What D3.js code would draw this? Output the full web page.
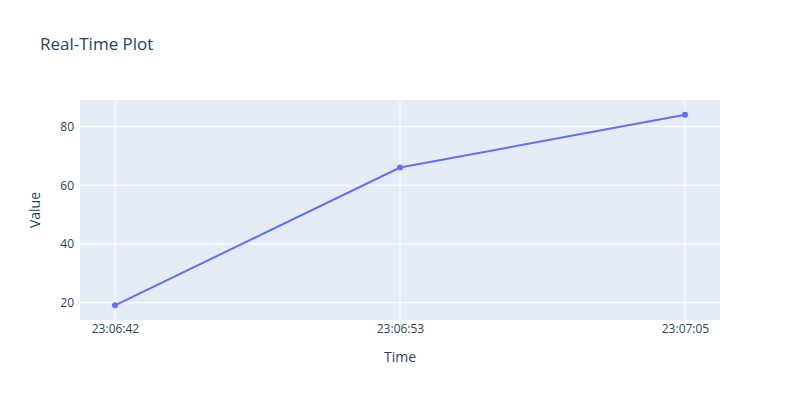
<!DOCTYPE html>
<html><head><meta charset="utf-8">
<script src="https://cdn.jsdelivr.net/npm/d3@7"></script>
<style>body{margin:0;background:#fff}text{font-family:"Open Sans",sans-serif}</style>
</head><body><svg id="c" width="800" height="400"></svg>
<script>
const times = ["23:06:42.200", "23:06:53.750", "23:07:05.300"];
const values = [19.1, 66, 84];
const yTicks = [20, 40, 60, 80];
const title = "Real-Time Plot";
const xTitle = "Time";
const yTitle = "Value";

const W = 800, H = 400, m = {l: 80, r: 80, t: 100, b: 80};
const svg = d3.select("#c");
const parse = d3.timeParse("%H:%M:%S.%L");
const dates = times.map(parse);
const data = dates.map((d, i) => ({d, v: values[i]}));

const t0 = dates[0].getTime(), t1 = dates[dates.length - 1].getTime();
const padX = (t1 - t0) * 35 / 570;
const x = d3.scaleTime().domain([new Date(t0 - padX), new Date(t1 + padX)]).range([m.l, W - m.r]);
const vmin = d3.min(values), vmax = d3.max(values);
const padY = (vmax - vmin) * 0.077;
const y = d3.scaleLinear().domain([vmin - padY, vmax + padY]).range([H - m.b, m.t]);

svg.append("rect").attr("x", m.l).attr("y", m.t).attr("width", W - m.l - m.r).attr("height", H - m.t - m.b).attr("fill", "#e5ecf6");

const gx = svg.append("g").attr("transform", `translate(0,${H - m.b})`)
  .call(d3.axisBottom(x).tickValues(dates).tickFormat(d3.timeFormat("%H:%M:%S")).tickSize(0).tickPadding(0));
gx.select(".domain").remove();
gx.selectAll("text").attr("dy", null).attr("y", 13).attr("fill", "#2a3f5f").style("font-size", "12px");
svg.append("g").selectAll("line").data(dates).join("line")
  .attr("x1", d => x(d)).attr("x2", d => x(d)).attr("y1", m.t).attr("y2", H - m.b)
  .attr("stroke", "#fff").attr("stroke-width", 1);

const gy = svg.append("g").attr("transform", `translate(${m.l},0)`)
  .call(d3.axisLeft(y).tickValues(yTicks).tickSize(0).tickPadding(6));
gy.select(".domain").remove();
gy.selectAll("text").attr("fill", "#2a3f5f").style("font-size", "12px");
svg.append("g").selectAll("line").data(yTicks).join("line")
  .attr("x1", m.l).attr("x2", W - m.r).attr("y1", d => y(d)).attr("y2", d => y(d))
  .attr("stroke", "#fff").attr("stroke-width", 1);

svg.append("path").datum(data)
  .attr("d", d3.line().x(d => x(d.d)).y(d => y(d.v)))
  .attr("fill", "none").attr("stroke", "#636efa").attr("stroke-width", 2);
svg.append("g").selectAll("circle").data(data).join("circle")
  .attr("cx", d => x(d.d)).attr("cy", d => y(d.v)).attr("r", 3).attr("fill", "#636efa");

svg.append("text").attr("x", 40).attr("y", 50).text(title).attr("fill", "#2a3f5f").style("font-size", "17px");
svg.append("text").attr("x", (m.l + W - m.r) / 2).attr("y", 362).attr("text-anchor", "middle").text(xTitle).attr("fill", "#2a3f5f").style("font-size", "14px");
svg.append("text").attr("transform", `translate(40,${(m.t + H - m.b) / 2}) rotate(-90)`).attr("text-anchor", "middle").text(yTitle).attr("fill", "#2a3f5f").style("font-size", "14px");
</script></body></html>
